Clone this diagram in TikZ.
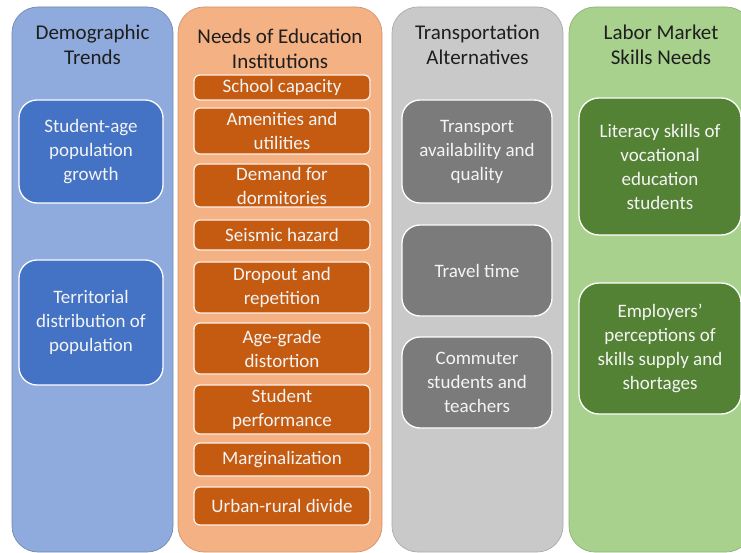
\documentclass[tikz,border=0pt]{standalone}
\usepackage{fontspec}
\setmainfont{Carlito}

% column and box colours
\definecolor{demoBg}{HTML}{8FAADC}
\definecolor{demoBox}{HTML}{4472C4}
\definecolor{eduBg}{HTML}{F4B183}
\definecolor{eduBox}{HTML}{C55A11}
\definecolor{transBg}{HTML}{C9C9C9}
\definecolor{transBox}{HTML}{7B7B7B}
\definecolor{laborBg}{HTML}{A9D18E}
\definecolor{laborBox}{HTML}{548235}
\definecolor{titleInk}{HTML}{1E1E1E}
\definecolor{boxInk}{HTML}{F4F4F4}

\begin{document}
\begin{tikzpicture}[x=1pt,y=-1pt,
  column/.style={rectangle, rounded corners=26pt, inner sep=0pt, outer sep=0pt, line width=0.7pt},
  coltitle/.style={align=center, text=titleInk, inner sep=0pt, font=\fontsize{21}{25.5}\selectfont},
  itembox/.style={rectangle, rounded corners=18pt, inner sep=0pt, outer sep=0pt, draw=white,
    line width=1.3pt, text=boxInk, align=center, font=\fontsize{19}{24}\selectfont},
  smallbox/.style={itembox, rounded corners=6pt, draw=white!80!eduBg, minimum width=176}
]
\useasboundingbox (0,0) rectangle (741,553);
\clip (0,0) rectangle (741,553);

% ---- four column panels
\node[column, fill=demoBg, draw=demoBg!80!black, minimum width=161, minimum height=545] (colDemo) at (92.5,279.5) {};
\node[column, fill=eduBg, draw=eduBg!85!black, minimum width=204, minimum height=545] (colEdu) at (280,279.5) {};
\node[column, fill=transBg, draw=transBg!85!black, minimum width=171, minimum height=545] (colTrans) at (477.5,279.5) {};
\node[column, fill=laborBg, draw=laborBg!85!black, minimum width=183, minimum height=545] (colLabor) at (660.5,279.5) {};

% ---- column headings
\node[coltitle] (tDemo) at (92.5,45) {Demographic\\Trends};
\node[coltitle] (tEdu) at (280,49) {Needs of Education\\Institutions};
\node[coltitle] (tTrans) at (477.5,45) {Transportation\\Alternatives};
\node[coltitle] (tLabor) at (661,45) {Labor Market\\Skills Needs};

% ---- demographic trends
\node[itembox, fill=demoBox, minimum width=144, minimum height=103] (dGrowth) at (91,151.5) {Student-age\\population\\growth};
\node[itembox, fill=demoBox, minimum width=144, minimum height=125] (dTerritory) at (91,322.5) {Territorial\\distribution of\\population};

% ---- needs of education institutions
\node[smallbox, fill=eduBox, minimum height=25] (eCapacity) at (282,87.5) {School capacity};
\node[smallbox, fill=eduBox, minimum height=46] (eAmenities) at (282,131) {Amenities and\\utilities};
\node[smallbox, fill=eduBox, minimum height=43] (eDorms) at (282,185.5) {Demand for\\dormitories};
\node[smallbox, fill=eduBox, minimum height=30] (eSeismic) at (282,235) {Seismic hazard};
\node[smallbox, fill=eduBox, minimum height=51] (eDropout) at (282,287.5) {Dropout and\\repetition};
\node[smallbox, fill=eduBox, minimum height=51] (eAgeGrade) at (282,348.5) {Age-grade\\distortion};
\node[smallbox, fill=eduBox, minimum height=49] (ePerform) at (282,409.5) {Student\\performance};
\node[smallbox, fill=eduBox, minimum height=33] (eMargin) at (282,459.5) {Marginalization};
\node[smallbox, fill=eduBox, minimum height=38] (eDivide) at (282,506) {Urban-rural divide};

% ---- transportation alternatives
\node[itembox, fill=transBox, minimum width=150, minimum height=103] (tAvail) at (477,151.5) {Transport\\availability and\\quality};
\node[itembox, fill=transBox, minimum width=150, minimum height=91] (tTime) at (477,270.5) {Travel time};
\node[itembox, fill=transBox, minimum width=150, minimum height=91] (tCommute) at (477,382.5) {Commuter\\students and\\teachers};

% ---- labor market skills needs
\node[itembox, fill=laborBox, rounded corners=20pt, minimum width=162, minimum height=137] (lLiteracy) at (660,166.5) {Literacy skills of\\vocational\\education\\students};
\node[itembox, fill=laborBox, rounded corners=20pt, minimum width=162, minimum height=131] (lEmployers) at (660,348.5) {Employers'\\perceptions of\\skills supply and\\shortages};
\end{tikzpicture}
\end{document}
